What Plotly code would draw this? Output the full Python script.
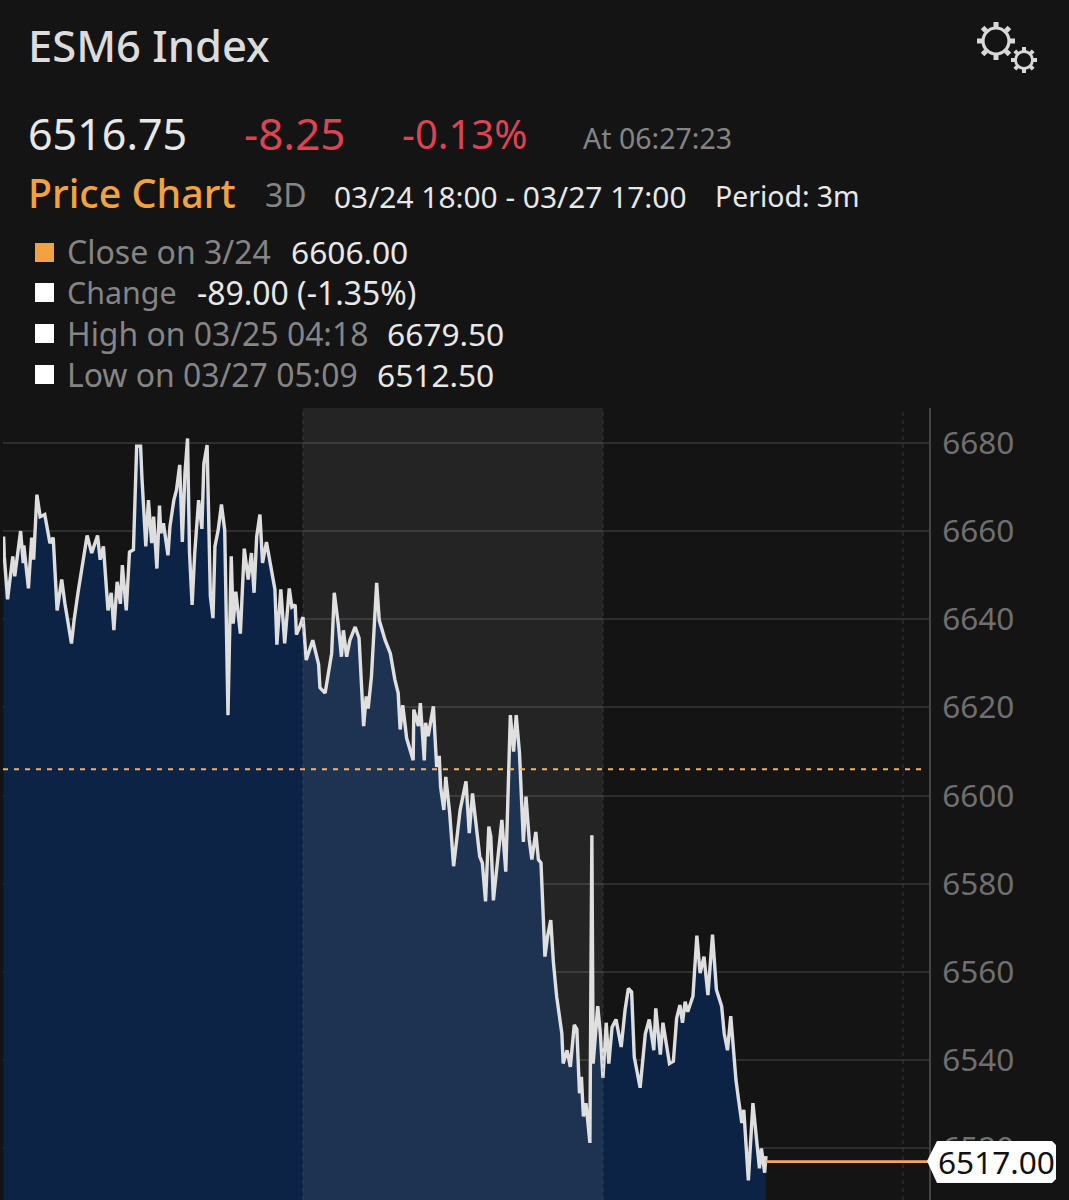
import numpy as np
import plotly.graph_objects as go

# values; x is the 3 minute bar number since the open
bars = [1, 2, 7, 11, 15, 18, 22, 27, 31, 32, 39, 44, 47, 52, 57, 64, 72, 77, 83, 90, 95, 105, 109, 115, 129, 136, 145, 149, 154, 159, 161, 166, 170, 175, 180, 183, 189, 194, 200, 205, 211, 213, 219, 223, 228, 231, 236, 240, 242, 246, 253, 256, 262, 266, 271, 275, 279, 283, 286, 290, 294, 300, 305, 308, 313, 318, 322, 325, 330, 335, 340, 345, 350, 353, 357, 364, 370, 376, 381, 385, 389, 394, 398, 404, 412, 417, 420, 426, 432, 439, 443, 448, 450, 455,
        460, 465, 475, 484, 486, 494, 504, 508, 514, 519, 522, 527, 532, 540, 546, 553, 557, 560, 565, 573, 577, 586, 594, 601, 606, 609, 613, 619, 629, 630, 637, 640, 646, 648, 652, 660, 665, 669, 671, 676, 679, 685, 691, 701, 710, 715, 720, 726, 731, 735, 740, 745, 748, 752, 760, 765, 771, 776, 778, 783, 787, 792, 795, 798, 802, 807, 811, 817, 821, 825,
        831, 835, 840, 844, 849, 857, 859, 865, 870, 876, 880, 884, 887, 890, 894, 900, 903, 905, 912, 916, 920, 925, 929, 934, 940, 948, 954, 959, 964, 968, 977, 985, 991, 998, 1001, 1008, 1012, 1022, 1028, 1033, 1038, 1042, 1046, 1050, 1058, 1064, 1069, 1075, 1081, 1088, 1094, 1102, 1106, 1111, 1116, 1120, 1124, 1128, 1133, 1136, 1143, 1150, 1155, 1160, 1163, 1168, 1170]
prices = [6658.75, 6654.25, 6644.5, 6650.0, 6654.25, 6649.75, 6654.5, 6660.0, 6652.75, 6656.75, 6647.0, 6658.5, 6653.5, 6668.25, 6663.25, 6663.75, 6657.25, 6658.5, 6642.0, 6649.0, 6643.5, 6634.5, 6639.75, 6646.0, 6659.0, 6655.0, 6659.0, 6653.5, 6656.5, 6646.75, 6642.0, 6646.0, 6637.5, 6648.5, 6643.5, 6652.25, 6642.0, 6655.25, 6655.75, 6679.25, 6679.25, 6672.25, 6656.5, 6667.0, 6657.25, 6663.25, 6651.5, 6665.75, 6659.5, 6661.75, 6654.5, 6661.0, 6667.0, 6669.25, 6675.0, 6657.5, 6673.0, 6681.0, 6655.25, 6643.25, 6655.0, 6667.0, 6660.5, 6675.25, 6679.5, 6645.25, 6640.25, 6656.5, 6660.25, 6666.0, 6660.25, 6618.25, 6654.25, 6639.0, 6646.25, 6636.75, 6656.0, 6649.0, 6655.0, 6646.0, 6658.75, 6663.75, 6652.75, 6657.5, 6651.25, 6646.75, 6634.25, 6646.75, 6634.5, 6647.0, 6642.75, 6643.25, 6636.5, 6638.25,
          6640.5, 6630.75, 6635.25, 6629.75, 6624.5, 6623.25, 6632.25, 6646.0, 6639.0, 6631.5, 6637.5, 6631.5, 6635.25, 6638.25, 6635.75, 6615.75, 6622.5, 6619.75, 6627.0, 6648.25, 6639.75, 6635.25, 6632.25, 6626.25, 6623.25, 6615.0, 6620.5, 6613.0, 6608.0, 6619.5, 6615.75, 6621.0, 6608.0, 6616.5, 6613.5, 6620.25, 6606.5, 6609.0, 6602.0, 6596.75, 6604.25, 6596.0, 6584.0, 6596.75, 6603.25, 6591.5, 6600.5, 6593.0, 6586.25, 6584.75, 6576.0, 6593.0, 6590.75, 6576.25, 6588.5, 6594.5, 6582.75, 6611.25, 6618.25, 6610.0, 6618.25, 6609.75, 6599.0, 6589.5, 6599.75, 6590.0, 6585.5, 6591.75, 6585.5, 6584.75,
          6563.5, 6568.0, 6571.75, 6562.25, 6554.5, 6546.0, 6539.25, 6542.25, 6538.5, 6548.0, 6547.0, 6532.5, 6536.25, 6527.25, 6530.25, 6521.25, 6591.0, 6539.25, 6552.25, 6546.0, 6536.0, 6548.5, 6539.25, 6547.5, 6549.25, 6543.0, 6551.5, 6556.25, 6555.5, 6540.75, 6533.75, 6546.0, 6549.25, 6542.25, 6551.75, 6541.25, 6548.5, 6539.25, 6539.75, 6549.5, 6552.5, 6548.5, 6553.25, 6551.0, 6554.5, 6568.25, 6559.75, 6563.5, 6554.75, 6568.5, 6556.0, 6552.25, 6546.0, 6542.25, 6550.0, 6542.25, 6535.5, 6531.0, 6525.75, 6528.75, 6512.75, 6530.25, 6523.5, 6515.5, 6520.0, 6514.5, 6518.25]
prev_close = 6606.00
last_price = 6517.00
session_breaks = [460, 920, 1380]
last_bar_axis = 1420
y_ticks = [6520, 6540, 6560, 6580, 6600, 6620, 6640, 6660, 6680]

W, H = 1069, 1200
FONT = "Noto Sans"
GREY = "#858585"
WHITE = "#e8e8e8"
RED = "#df4353"
ORANGE = "#f2a341"


def px(x):
    return x / W


def py(y):
    return 1 - y / H


def label(text, x, y, size, color, anchor="left", weight=400):
    return dict(text=text, x=px(x), y=py(y), xref="paper", yref="paper",
                xanchor=anchor, yanchor="middle", showarrow=False,
                font=dict(family=FONT, size=size, color=color, weight=weight))


def gear(cx, cy, ring, tooth_in, tooth_out, width, tooth_width):
    """Ring and teeth of the settings icon, in page pixels."""
    out = [dict(type="circle", xref="paper", yref="paper",
                x0=px(cx - ring), x1=px(cx + ring), y0=py(cy + ring), y1=py(cy - ring),
                line=dict(color="#d8d8d8", width=width))]
    path = ""
    for a in np.arange(8) * np.pi / 4 + np.pi / 2:
        path += f"M{px(cx + tooth_in * np.cos(a))},{py(cy + tooth_in * np.sin(a))}"
        path += f"L{px(cx + tooth_out * np.cos(a))},{py(cy + tooth_out * np.sin(a))}"
    out.append(dict(type="path", xref="paper", yref="paper", path=path,
                    line=dict(color="#d8d8d8", width=tooth_width)))
    return out


fig = go.Figure()

fig.add_trace(go.Scatter(x=bars, y=prices, mode="lines", fill="tozeroy",
                         fillcolor="rgba(13,36,72,0.95)",
                         line=dict(color="#dedede", width=3.4)))
fig.add_trace(go.Scatter(x=[0, 1410], y=[prev_close, prev_close], mode="lines",
                         line=dict(color="#eeb26a", width=2, dash="5px,6px")))
fig.add_trace(go.Scatter(x=[bars[-1], last_bar_axis], y=[last_price, last_price], mode="lines",
                         line=dict(color="#f0a860", width=2.6)))

shapes = []
# session shading, also lightens the area below it
shapes.append(dict(type="rect", xref="x", yref="paper", x0=session_breaks[0], x1=session_breaks[1],
                   y0=0, y1=py(408), fillcolor="rgba(255,255,255,0.07)", line_width=0, layer="above"))
for b in session_breaks:
    shapes.append(dict(type="line", xref="x", yref="paper", x0=b, x1=b, y0=0, y1=py(408),
                       line=dict(color="rgba(90,100,120,0.22)", width=2, dash="4px,4px"), layer="above"))

# legend squares
for top, col in zip([243, 283, 324, 365], [ORANGE, "#ffffff", "#ffffff", "#ffffff"]):
    shapes.append(dict(type="rect", xref="paper", yref="paper", x0=px(35), x1=px(54),
                       y0=py(top + 19), y1=py(top), fillcolor=col, line_width=0))

shapes += gear(996, 41, 13, 14, 19, 3.2, 5)
shapes += gear(1024, 60, 8.5, 9, 13, 2.8, 4)

# price tag on the axis
tag = [(927, 1161), (937, 1141), (1052, 1141), (1056, 1145), (1056, 1179), (1052, 1183), (937, 1183)]
tag_path = "M" + "L".join(f"{px(a)},{py(b)}" for a, b in tag) + "Z"
shapes.append(dict(type="path", xref="paper", yref="paper", path=tag_path,
                   fillcolor="#ffffff", line_width=0, layer="above"))

annotations = [
    label("ESM6 Index", 26, 45, 43.5, "#dcdcdc", weight=500),
    label("6516.75", 26, 133, 43, WHITE),
    label("-8.25", 242, 133, 44, RED),
    label("-0.13%", 400, 133, 40, RED),
    label("At 06:27:23", 581, 138, 28.5, GREY),
    label("Price Chart", 26, 193, 39.4, ORANGE, weight=500),
    label("3D", 263, 195, 32, GREY),
    label("03/24 18:00 - 03/27 17:00", 332, 196, 29.9, WHITE),
    label("Period: 3m", 713, 196, 28.4, WHITE),
    label("Close on 3/24", 65, 251, 32, GREY),
    label("6606.00", 289, 251, 31.7, WHITE),
    label("Change", 65, 292, 30.4, GREY),
    label("-89.00 (-1.35%)", 195, 292, 31.9, WHITE),
    label("High on 03/25 04:18", 65, 333, 31.9, GREY),
    label("6679.50", 385, 333, 31.7, WHITE),
    label("Low on 03/27 05:09", 65, 374, 31.9, GREY),
    label("6512.50", 375, 374, 31.7, WHITE),
    label("6517.00", 996, 1161, 31.6, "#111111", anchor="center"),
]

fig.update_layout(
    width=W, height=H, margin=dict(l=0, r=0, t=0, b=0),
    paper_bgcolor="#141414", plot_bgcolor="#141414",
    showlegend=False, shapes=shapes, annotations=annotations,
    xaxis=dict(domain=[px(3), px(929)], range=[0, last_bar_axis], visible=False),
    yaxis=dict(domain=[0, py(408)], range=[6508.3, 6687.9], side="right",
               tickmode="array", tickvals=y_ticks, ticks="", ticklabelstandoff=5,
               tickfont=dict(family=FONT, size=31.5, color="#6f6f6f"),
               gridcolor="#2e2e2e", gridwidth=2, zeroline=False,
               showline=True, linecolor="#444444", linewidth=2),
)

fig.write_html("out.html", config=dict(displayModeBar=False),
               post_script="document.body.style.margin='0';document.body.style.overflow='hidden';")
